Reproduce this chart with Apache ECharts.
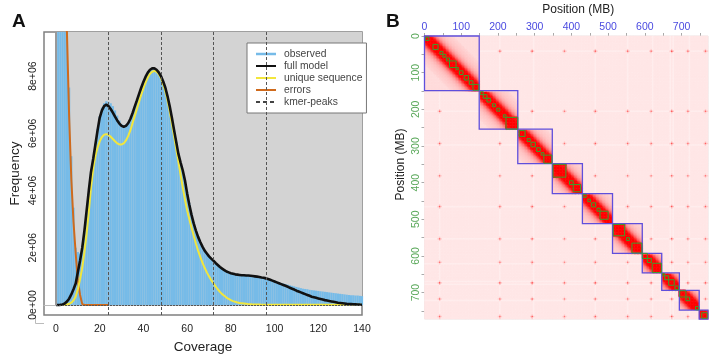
<!DOCTYPE html>
<html>
<head>
<meta charset="utf-8">
<style>
  html, body { margin: 0; background: #fff; }
  #chart { width: 724px; height: 356px; }
</style>
<script src="https://cdn.jsdelivr.net/npm/echarts@6/dist/echarts.min.js"></script>
</head>
<body>
<div id="chart"></div>
<script>
const font = '"Liberation Sans", Arial, sans-serif'

// panel A, frequencies in millions
const xTicks = [0, 20, 40, 60, 80, 100, 120, 140]
const yTicks = [0, 2e6, 4e6, 6e6, 8e6]
const kmerPeaks = [24, 48, 72, 96]

// coverage 1..140
const observed = [
  30, 25, 20, 14, 10.5, 7.6, 5.2, 3.4, 2.0, 1.85,
  1.8, 1.9, 2.5, 3.2, 3.9, 4.6, 5.1, 5.65, 6.15, 6.6,
  6.9, 7.05, 7.12, 7.1, 7.05, 6.95, 6.8, 6.62, 6.45, 6.32,
  6.28, 6.3, 6.38, 6.52, 6.7, 6.93, 7.15, 7.38, 7.6, 7.8,
  7.98, 8.12, 8.22, 8.28, 8.28, 8.22, 8.13, 8.0, 7.82, 7.6,
  7.3, 6.95, 6.55, 6.12, 5.7, 5.28, 4.98, 4.7, 4.35, 3.95,
  3.55, 3.2, 2.9, 2.62, 2.4, 2.2, 2.05, 1.9, 1.8, 1.7,
  1.62, 1.55, 1.47, 1.4, 1.33, 1.27, 1.22, 1.17, 1.14, 1.11,
  1.09, 1.07, 1.06, 1.05, 1.04, 1.04, 1.03, 1.03, 1.02, 1.01,
  1.0, 0.99, 0.98, 0.96, 0.95, 0.93, 0.91, 0.89, 0.87, 0.85,
  0.82, 0.8, 0.77, 0.75, 0.73, 0.71, 0.69, 0.67, 0.65, 0.63,
  0.61, 0.59, 0.57, 0.56, 0.55, 0.53, 0.52, 0.51, 0.5, 0.49,
  0.48, 0.47, 0.46, 0.45, 0.44, 0.43, 0.42, 0.41, 0.4, 0.39,
  0.38, 0.37, 0.36, 0.35, 0.34, 0.34, 0.33, 0.33, 0.32, 0.31
]

// coverage 0..140
const fullModel = [
  0, 0, 0.005, 0.02, 0.05, 0.12, 0.22, 0.37, 0.55, 0.75,
  1.15, 1.55, 2.0, 2.6, 3.3, 4.0, 4.65, 5.1, 5.6, 6.1,
  6.55, 6.8, 6.95, 7.0, 6.95, 6.85, 6.72, 6.58, 6.45, 6.34,
  6.26, 6.23, 6.26, 6.35, 6.5, 6.7, 6.93, 7.15, 7.38, 7.6,
  7.8, 7.98, 8.12, 8.22, 8.27, 8.27, 8.22, 8.13, 8.0, 7.82,
  7.6, 7.3, 6.95, 6.55, 6.12, 5.7, 5.28, 4.98, 4.7, 4.35,
  3.9, 3.5, 3.15, 2.85, 2.6, 2.38, 2.2, 2.04, 1.9, 1.8,
  1.7, 1.62, 1.55, 1.47, 1.4, 1.33, 1.27, 1.22, 1.17, 1.14,
  1.11, 1.09, 1.07, 1.06, 1.05, 1.04, 1.04, 1.03, 1.03, 1.02,
  1.01, 1.0, 0.99, 0.98, 0.96, 0.95, 0.93, 0.91, 0.88, 0.85,
  0.82, 0.79, 0.76, 0.73, 0.7, 0.67, 0.64, 0.6, 0.57, 0.54,
  0.5, 0.47, 0.44, 0.41, 0.38, 0.35, 0.32, 0.29, 0.27, 0.25,
  0.23, 0.21, 0.19, 0.17, 0.155, 0.14, 0.125, 0.11, 0.095, 0.08,
  0.07, 0.06, 0.05, 0.04, 0.035, 0.03, 0.025, 0.02, 0.015, 0.012, 0.01
]
const uniqueSeq = [
  0, 0, 0, 0, 0.01, 0.02, 0.04, 0.08, 0.16, 0.3,
  0.55, 0.9, 1.3, 1.85, 2.5, 3.25, 4.1, 4.75, 5.2, 5.5,
  5.72, 5.87, 5.95, 5.97, 5.95, 5.88, 5.8, 5.72, 5.65, 5.61,
  5.61, 5.65, 5.75, 5.9, 6.1, 6.35, 6.6, 6.85, 7.1, 7.35,
  7.58, 7.78, 7.95, 8.08, 8.15, 8.18, 8.15, 8.07, 7.93, 7.72,
  7.47, 7.15, 6.78, 6.35, 5.9, 5.45, 5.0, 4.55, 4.1, 3.68,
  3.3, 3.0, 2.7, 2.42, 2.15, 1.9, 1.68, 1.48, 1.3, 1.14,
  1.0, 0.87, 0.76, 0.65, 0.55, 0.46, 0.38, 0.32, 0.26, 0.21,
  0.17, 0.135, 0.11, 0.09, 0.07, 0.06, 0.05, 0.04, 0.03, 0.025,
  0.02, 0.02, 0.015, 0.015, 0.01, 0.01, 0.01, 0.01, 0.01, 0.01,
  0.01, 0.01, 0.01, 0.01, 0.01, 0.01, 0.01, 0.01, 0.01, 0.01,
  0.01, 0.01, 0.01, 0.01, 0.01, 0.01, 0.01, 0.01, 0.01, 0.01,
  0.01, 0.01, 0.01, 0.01, 0.01, 0.01, 0.01, 0.01, 0.01, 0.01,
  0.01, 0.01, 0.01, 0.01, 0.01, 0.01, 0.01, 0.01, 0.01, 0.01, 0.01
]
// coverage 0..24
const errorsFit = [
  40, 30, 25, 18, 12.5, 9.5, 6.6, 4.4, 2.9, 1.8,
  0.85, 0.35, 0.03, 0, 0, 0, 0, 0, 0, 0, 0, 0, 0, 0, 0
]

// panel B, positions in MB
const binSize = 4
const positionMax = 772
const chromBounds = [0, 149, 254, 348, 430, 512, 593, 646, 694, 748, 772]
const domains = [
  [3, 12], [23, 37], [42, 50], [50, 58], [60, 68], [68, 86], [86, 92], [95, 105], [108, 120], [122, 132], [132, 148],
  [152, 160], [160, 170], [170, 180], [185, 193], [197, 205], [215, 222], [222, 254],
  [258, 274], [280, 288], [290, 302], [305, 315], [318, 325], [325, 347],
  [350, 385], [395, 405], [405, 425],
  [432, 440], [445, 452], [455, 466], [470, 478], [478, 500],
  [514, 545], [550, 558], [565, 592],
  [593, 607], [607, 618], [620, 645],
  [648, 654], [654, 665], [665, 680], [682, 692],
  [695, 712], [712, 722], [738, 747],
  [755, 770]
]
const centromeres = [43, 205, 295, 382, 464, 554, 618, 673, 717, 767]
const centromereStrength = [62, 55, 62, 46, 62, 55, 46, 70, 52, 60]
const paleStripes = [43, 296, 466, 622, 668, 677, 723, 205, 554]
// contact level by distance from the diagonal, one entry per bin
const diagonalProfile = [100, 100, 100, 100, 97, 86, 70, 56, 46, 38, 33, 29, 26, 24, 22, 21, 20, 19, 18, 17]
const chromFloor = 14
const backgroundLevel = 10
const stripeLevel = 7

const binOf = (mb) => Math.min(Math.floor(mb / binSize), Math.ceil(positionMax / binSize) - 1)
const chromOf = (mb) => chromBounds.findIndex((b, i) => i > 0 && mb < b)

const binCount = Math.ceil(positionMax / binSize)
const binNames = Array.from({ length: binCount }, (_, i) => String(i * binSize))
const matrix = binNames.map(() => new Array(binCount).fill(backgroundLevel))
paleStripes.forEach((mb) => {
  const s = binOf(mb)
  for (let k = 0; k < binCount; k++) {
    matrix[s][k] = stripeLevel
    matrix[k][s] = stripeLevel
  }
})
for (let i = 0; i < binCount; i++) {
  for (let j = 0; j < binCount; j++) {
    if (chromOf(i * binSize) === chromOf(j * binSize)) {
      const level = diagonalProfile[Math.abs(i - j)]
      matrix[i][j] = level === undefined ? chromFloor : level
    }
  }
}
domains.forEach(([a, b]) => {
  if (b - a < 15) return
  for (let i = binOf(a); i <= binOf(b - 1); i++) {
    for (let j = binOf(a); j <= binOf(b - 1); j++) {
      matrix[i][j] = Math.max(matrix[i][j], 94)
    }
  }
})
centromeres.forEach((p, a) => {
  centromeres.forEach((q, b) => {
    if (a === b) return
    const i = binOf(p), j = binOf(q)
    const level = (centromereStrength[a] + centromereStrength[b]) / 2
    matrix[i][j] = Math.max(matrix[i][j], level)
    ;[[1, 0], [-1, 0], [0, 1], [0, -1]].forEach(([di, dj]) => {
      if (matrix[i + di] && matrix[i + di][j + dj] !== undefined) {
        matrix[i + di][j + dj] = Math.max(matrix[i + di][j + dj], level * 0.35)
      }
    })
  })
})
const heatData = []
matrix.forEach((row, i) => row.forEach((v, j) => heatData.push([i, j, v])))

const chromBoxes = chromBounds.slice(1).map((b, i) => [chromBounds[i], b])

const squareSeries = (data, color, width) => ({
  type: 'custom',
  xAxisIndex: 1,
  yAxisIndex: 1,
  data,
  silent: true,
  z: 4,
  clip: false,
  encode: { x: 0, y: 1 },
  renderItem: (params, api) => {
    const p0 = api.coord([api.value(0), api.value(0)])
    const p1 = api.coord([api.value(1), api.value(1)])
    return {
      type: 'rect',
      shape: { x: p0[0], y: p0[1], width: p1[0] - p0[0], height: p1[1] - p0[1] },
      style: { fill: 'none', stroke: color, lineWidth: width }
    }
  }
})

const toPoints = (list, start) => list.map((v, i) => [i + start, v * 1e6])
const plainLine = (name, list, start, color, width) => ({
  name,
  type: 'line',
  data: toPoints(list, start),
  symbol: 'none',
  smooth: false,
  z: 3,
  lineStyle: { color, width },
  itemStyle: { color }
})

const yTop = 9.54e6
const yBottom = -0.35e6

const mChart = echarts.init(document.getElementById('chart'))
mChart.setOption({
  animation: false,
  title: [
    { text: 'A', left: 12, top: 12, padding: 0, textStyle: { fontFamily: font, fontSize: 19, fontWeight: 'bold', color: '#111' } },
    { text: 'B', left: 386, top: 12, padding: 0, textStyle: { fontFamily: font, fontSize: 19, fontWeight: 'bold', color: '#111' } }
  ],
  grid: [
    { left: 44, top: 32, width: 318, height: 283, show: true, borderColor: '#808080', borderWidth: 1.5, backgroundColor: '#fff', outerBoundsMode: 'none' },
    { left: 424.5, top: 36, width: 283.5, height: 283, show: true, borderColor: '#e6e6e6', borderWidth: 1, outerBoundsMode: 'none' }
  ],
  legend: {
    left: 247,
    top: 43,
    orient: 'vertical',
    itemWidth: 20,
    itemHeight: 2.5,
    itemGap: 0,
    padding: [5, 4, 5, 8],
    backgroundColor: '#fff',
    borderColor: '#777',
    borderWidth: 1,
    borderRadius: 0,
    selectedMode: false,
    textStyle: { fontFamily: font, fontSize: 10.3, color: '#444', lineHeight: 12, padding: [0, 0, 0, 3] },
    data: [
      { name: 'observed', icon: 'rect' },
      { name: 'full model' },
      { name: 'unique sequence' },
      { name: 'errors' },
      { name: 'kmer-peaks' }
    ]
  },
  graphic: [
    // corner of the axis frame, left of the plot box
    { type: 'polyline', silent: true, shape: { points: [[35.5, 315], [35.5, 323.5], [44, 323.5]] }, style: { fill: 'none', stroke: '#bbb', lineWidth: 1 } }
  ],
  xAxis: [
    {
      type: 'value', gridIndex: 0, min: -5.5, max: 140, offset: 8,
      name: 'Coverage', nameLocation: 'middle', nameGap: 14,
      nameTextStyle: { fontFamily: font, fontSize: 13.5, color: '#222' },
      axisLine: { show: true, lineStyle: { color: '#bbb' } },
      axisTick: { show: true, inside: true, length: 6, customValues: xTicks, lineStyle: { color: '#888' } },
      axisLabel: { customValues: xTicks, fontFamily: font, fontSize: 10.5, color: '#222', margin: 1 },
      splitLine: { show: false }
    },
    {
      type: 'value', gridIndex: 1, position: 'top', min: 0, max: positionMax, interval: 50,
      name: 'Position (MB)', nameLocation: 'middle', nameGap: 20,
      nameTextStyle: { fontFamily: font, fontSize: 12, color: '#222', padding: [0, 0, 0, 24] },
      axisLine: { show: false },
      axisTick: { show: true, length: 3, lineStyle: { color: '#aaa' } },
      axisLabel: { fontFamily: font, fontSize: 10.5, color: '#4a4ae0', margin: 3, showMaxLabel: false, formatter: (v) => (v % 100 === 0 ? v : '') },
      splitLine: { show: false }
    },
    { type: 'category', gridIndex: 1, data: binNames, show: false }
  ],
  yAxis: [
    {
      type: 'value', gridIndex: 0, min: yBottom, max: yTop, offset: 6,
      name: 'Frequency', nameLocation: 'middle', nameGap: 16,
      nameTextStyle: { fontFamily: font, fontSize: 13.5, color: '#222' },
      axisLine: { show: false },
      axisTick: { show: true, inside: true, length: 6, customValues: yTicks, lineStyle: { color: '#888' } },
      axisLabel: {
        customValues: yTicks, fontFamily: font, fontSize: 10.5, color: '#222', rotate: 90, margin: -1,
        formatter: (v) => (v === 0 ? '0e+00' : (v / 1e6) + 'e+06')
      },
      splitLine: { show: false }
    },
    {
      type: 'value', gridIndex: 1, inverse: true, min: 0, max: positionMax, interval: 50,
      name: 'Position (MB)', nameLocation: 'middle', nameGap: 18,
      nameTextStyle: { fontFamily: font, fontSize: 12, color: '#222', padding: [0, 0, 0, 26] },
      axisLine: { show: false },
      axisTick: { show: true, length: 3, lineStyle: { color: '#aaa' } },
      axisLabel: {
        fontFamily: font, fontSize: 10.5, color: '#5aa85a', rotate: 90, margin: 3, showMaxLabel: false,
        formatter: (v) => (v % 100 === 0 ? v : '')
      },
      splitLine: { show: false }
    },
    { type: 'category', gridIndex: 1, data: binNames, inverse: true, show: false }
  ],
  visualMap: {
    show: false,
    seriesIndex: 0,
    dimension: 2,
    min: 0,
    max: 100,
    inRange: { color: ['#ffffff', '#ff0000'] }
  },
  series: [
    {
      type: 'heatmap',
      xAxisIndex: 2,
      yAxisIndex: 2,
      data: heatData,
      progressive: 0,
      silent: true,
      z: 1
    },
    squareSeries(chromBoxes, '#5f4fdc', 1.3),
    squareSeries(domains, '#3c9f2c', 1),
    {
      // gray plot area behind the bars, with its left edge and zero baseline
      type: 'line',
      data: [],
      z: 1,
      silent: true,
      markArea: {
        silent: true,
        itemStyle: { color: '#d3d3d3' },
        data: [[{ coord: [0, 0] }, { coord: [140, yTop] }]]
      }
    },
    {
      name: 'observed',
      type: 'bar',
      data: toPoints(observed, 1),
      barWidth: 2.2,
      z: 2,
      itemStyle: { color: '#76bbe8' }
    },
    {
      name: 'kmer-peaks',
      type: 'line',
      data: [],
      symbol: 'none',
      z: 2,
      lineStyle: { color: '#444', width: 1, type: [4, 3] },
      itemStyle: { color: '#444' },
      markLine: {
        silent: true,
        symbol: 'none',
        label: { show: false },
        lineStyle: { color: '#555', width: 1, type: [3, 2] },
        data: kmerPeaks.map((x) => ({ xAxis: x })).concat([
          [{ coord: [0, 0], lineStyle: { color: '#999', width: 2, type: 'solid' } }, { coord: [0, yTop] }],
          [{ coord: [0, 0], lineStyle: { color: '#555', width: 1, type: [2, 1] } }, { coord: [140, 0] }]
        ])
      }
    },
    plainLine('errors', errorsFit, 0, '#cf6a1c', 2),
    plainLine('unique sequence', uniqueSeq, 0, '#f2e63c', 2),
    plainLine('full model', fullModel, 0, '#111111', 2.6)
  ]
})
</script>
</body>
</html>
